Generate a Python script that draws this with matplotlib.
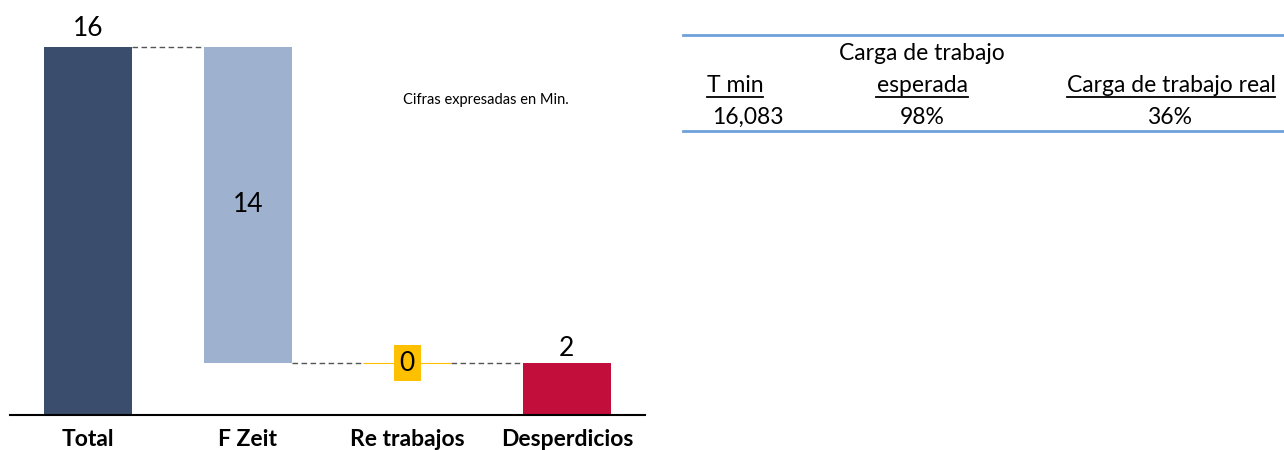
import matplotlib
matplotlib.use("Agg")
import matplotlib.pyplot as plt
from matplotlib.lines import Line2D

plt.rcParams['font.family'] = ['Lato', 'DejaVu Sans']

categories = ["Total", "F Zeit", "Re trabajos", "Desperdicios"]
values = [16.08, 13.80, 0.03, 2.25]
kinds = ["total", "down", "down", "end"]
colors = ["#3A4D6D", "#9EB1CF", "#FFC000", "#C20E3A"]
note = "Cifras expresadas en Min."

table_headers_top = ["", "Carga de trabajo", ""]
table_headers = ["T min", "esperada", "Carga de trabajo real"]
table_values = ["16,083", "98%", "36%"]

W, H = 1284, 450
fig = plt.figure(figsize=(W / 100, H / 100), dpi=100)
ax = fig.add_axes([10 / W, 35 / H, 635 / W, 415 / H])

# waterfall bottoms
bottoms = []
tops = []
level = 0
for v, k in zip(values, kinds):
    if k == "total":
        b, t = 0, v
        level = v
    elif k == "down":
        b, t = level - v, level
        level = level - v
    else:
        b, t = 0, v
    bottoms.append(b)
    tops.append(t)

x = list(range(len(categories)))
width = 0.55
for i in x:
    h = tops[i] - bottoms[i]
    ax.bar(i, h, bottom=bottoms[i], width=width, color=colors[i],
           edgecolor=colors[i], linewidth=0.8 if i == 2 else 0, zorder=2)

# connectors
conn_levels = [tops[0], bottoms[1], bottoms[2]]
for i, lv in enumerate(conn_levels):
    ax.plot([i + width / 2, i + 1 - width / 2], [lv, lv], ls=(0, (4, 2.5)),
            color="#555555", lw=1.0, zorder=1)

lfs = 19
ax.annotate(f"{values[0]:.0f}", (0, tops[0]), xytext=(0, 4), textcoords="offset points",
            ha="center", va="bottom", fontsize=lfs)
ax.text(1, (tops[1] + bottoms[1]) / 2, f"{values[1]:.0f}", ha="center", va="center", fontsize=lfs)
ax.text(2, (tops[2] + bottoms[2]) / 2, f"{values[2]:.0f}", ha="center", va="center", fontsize=lfs,
        bbox=dict(boxstyle="square,pad=0.22", fc="#FFC000", ec="none"), zorder=3)
ax.annotate(f"{values[3]:.0f}", (3, tops[3]), xytext=(0, 2), textcoords="offset points",
            ha="center", va="bottom", fontsize=lfs)

ax.text(2.49, 13.75, note, fontsize=10.5, ha="center", va="center")

ax.set_xlim(-0.49, 3.49)
ax.set_ylim(0, 415 / 22.9)
ax.set_xticks(x)
ax.set_xticklabels(categories, fontsize=16.5, fontweight="bold")
ax.tick_params(axis="x", length=0, pad=10)
ax.set_yticks([])
for s in ["top", "left", "right"]:
    ax.spines[s].set_visible(False)
ax.spines["bottom"].set_linewidth(1.5)
ax.spines["bottom"].set_color("black")

# table
def fx(px):
    return px / W

def fy(py):
    return 1 - py / H

fig.add_artist(Line2D([fx(683), fx(1284)], [fy(35), fy(35)], color="#6FA0DC", lw=2, transform=fig.transFigure))
fig.add_artist(Line2D([fx(683), fx(1284)], [fy(131), fy(131)], color="#6FA0DC", lw=2, transform=fig.transFigure))

col_x = [735, 922, 1171]
fs = 16.5
fig.text(fx(col_x[1]), fy(60), table_headers_top[1], ha="center", va="baseline", fontsize=fs)
hdr_texts = []
for cx, t in zip(col_x, table_headers):
    hdr_texts.append(fig.text(fx(cx), fy(92), t, ha="center", va="baseline", fontsize=fs))
val_x = [748, 922, 1170]
for cx, t in zip(val_x, table_values):
    fig.text(fx(cx), fy(124), t, ha="center", va="baseline", fontsize=fs)

fig.canvas.draw()
r = fig.canvas.get_renderer()
for t in hdr_texts:
    bb = t.get_window_extent(r)
    fig.add_artist(Line2D([bb.x0 / W, bb.x1 / W], [(H - 97) / H, (H - 97) / H], color="black", lw=1.3,
                          transform=fig.transFigure))

fig.savefig("out.png", dpi=100)
